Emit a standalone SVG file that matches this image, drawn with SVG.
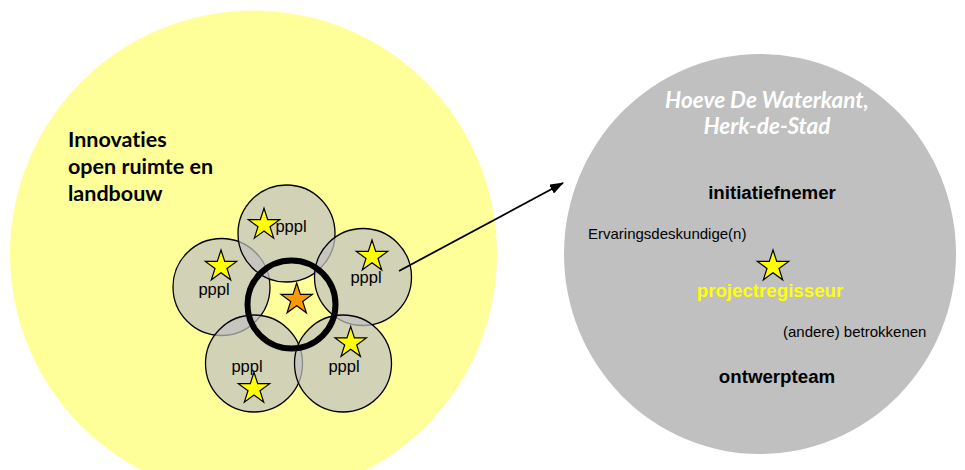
<svg xmlns="http://www.w3.org/2000/svg" width="965" height="470" viewBox="0 0 965 470">
  <defs>
    <!-- five-pointed star, outer radius 16.5 -->
    <path id="star" d="M0,-16.5 L3.70,-5.10 L15.69,-5.10 L5.99,1.95 L9.70,13.35 L0,6.3 L-9.70,13.35 L-5.99,1.95 L-15.69,-5.10 L-3.70,-5.10 Z"/>
    <marker id="arrowhead" markerWidth="14" markerHeight="10" refX="13" refY="5" orient="auto" markerUnits="userSpaceOnUse">
      <path d="M0,0 L14,5 L0,10 Z" fill="#000"/>
    </marker>
  </defs>
  <style>
    .area-yellow { fill: #ffff99; }
    .area-grey { fill: #c0c0c0; }
    .partner { fill: #c0c0c0; fill-opacity: 0.72; stroke: #000; stroke-width: 1.3; }
    .ring { fill: none; stroke: #000; stroke-width: 6; }
    .star-y { fill: #ffff00; stroke: #000; stroke-width: 1.2; }
    .star-o { fill: #ff9900; stroke: #000; stroke-width: 1.2; }
    .pppl { font-family: "Liberation Sans", Arial, sans-serif; font-size: 16.5px; fill: #000; text-anchor: middle; }
    .title { font-family: Lato, "Open Sans", sans-serif; font-weight: bold; font-size: 21.5px; fill: #000; font-variant-ligatures: none; }
    .place { font-family: Lato, "Open Sans", sans-serif; font-weight: bold; font-style: italic; font-size: 22.5px; fill: #ffffff; text-anchor: middle; font-variant-ligatures: none; }
    .role-b { font-family: "Liberation Sans", Arial, sans-serif; font-weight: bold; font-size: 18.7px; fill: #000; text-anchor: middle; }
    .role { font-family: "Liberation Sans", Arial, sans-serif; font-size: 15px; fill: #000; }
    .arrow { stroke: #000; stroke-width: 1.8; fill: none; }
  </style>

  <!-- large yellow area: innovation theme -->
  <g id="innovaties">
    <circle class="area-yellow" cx="253.5" cy="254" r="243.5"/>
    <text class="title" x="68" y="147">Innovaties</text>
    <text class="title" x="68" y="174">open ruimte en</text>
    <text class="title" x="68" y="201">landbouw</text>
  </g>

  <!-- five pppl partner circles -->
  <g id="pppl-left">
    <circle class="partner" cx="221.5" cy="287" r="48.5"/>
  </g>
  <g id="pppl-top">
    <circle class="partner" cx="286.5" cy="233.5" r="48.5"/>
  </g>
  <g id="pppl-right">
    <circle class="partner" cx="363" cy="277" r="48.5"/>
  </g>
  <g id="pppl-bottom-left">
    <circle class="partner" cx="254" cy="363.5" r="48.5"/>
  </g>
  <g id="pppl-bottom-right">
    <circle class="partner" cx="343" cy="363.5" r="48.5"/>
  </g>

  <!-- central ring with orange star -->
  <g id="kern">
    <circle class="ring" cx="291.5" cy="304.5" r="44"/>
    <use href="#star" class="star-o" x="296.7" y="299.5"/>
  </g>

  <!-- stars and labels on the partner circles -->
  <g id="pppl-labels">
    <use href="#star" class="star-y" x="264" y="224.8"/>
    <text class="pppl" x="291" y="232">pppl</text>
    <use href="#star" class="star-y" x="221" y="266.5"/>
    <text class="pppl" x="214" y="295">pppl</text>
    <use href="#star" class="star-y" x="372" y="256.5"/>
    <text class="pppl" x="366" y="283">pppl</text>
    <text class="pppl" x="247" y="372">pppl</text>
    <use href="#star" class="star-y" x="254" y="388.8"/>
    <use href="#star" class="star-y" x="350.7" y="343"/>
    <text class="pppl" x="344" y="372">pppl</text>
  </g>

  <!-- project detail circle -->
  <g id="hoeve">
    <ellipse class="area-grey" cx="760" cy="254" rx="196" ry="200"/>
    <text class="place" x="767" y="108">Hoeve De Waterkant,</text>
    <text class="place" x="767" y="134">Herk-de-Stad</text>
    <text class="role-b" x="772" y="199">initiatiefnemer</text>
    <text class="role" x="588" y="239">Ervaringsdeskundige(n)</text>
    <use href="#star" class="star-y" x="773" y="266.5"/>
    <text class="role-b" x="770" y="297" style="fill:#ffff00">projectregisseur</text>
    <text class="role" x="783" y="337">(andere) betrokkenen</text>
    <text class="role-b" x="777" y="383">ontwerpteam</text>
  </g>

  <!-- connector -->
  <g id="connectors">
    <line class="arrow" x1="399" y1="271" x2="563" y2="183" marker-end="url(#arrowhead)"/>
  </g>
</svg>
